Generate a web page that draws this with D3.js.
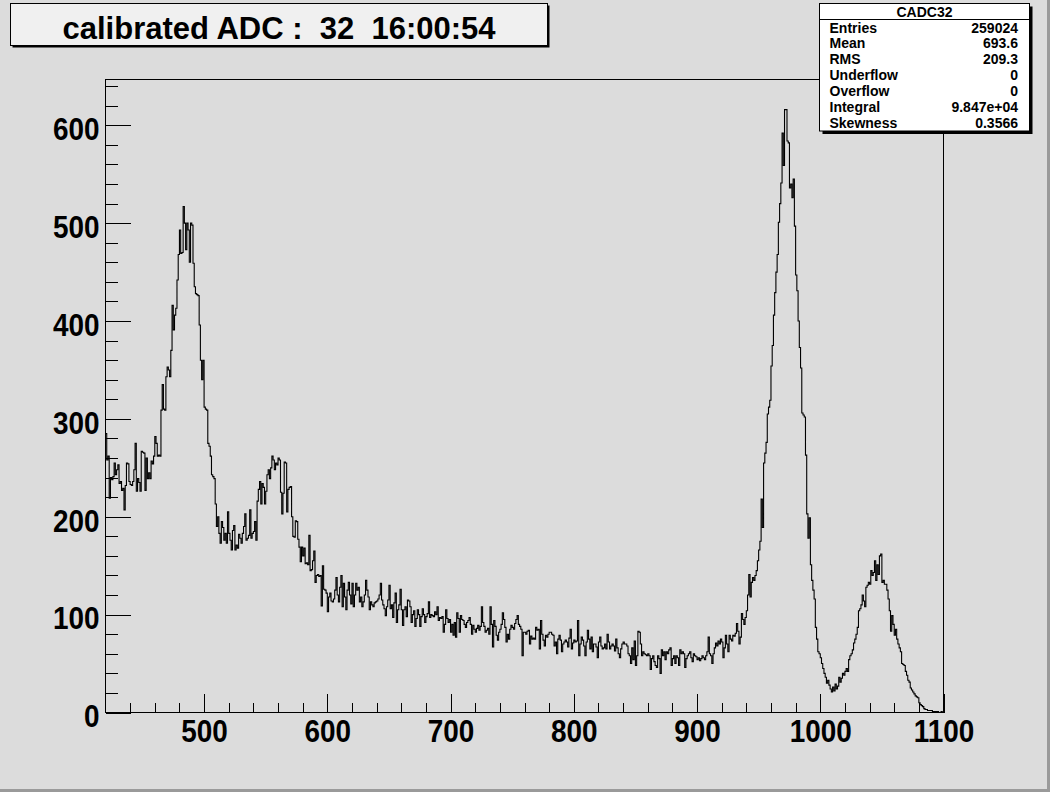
<!DOCTYPE html>
<html><head><meta charset="utf-8">
<script src="https://cdn.jsdelivr.net/npm/d3@7"></script>
<style>
html,body{margin:0;padding:0;background:#dcdcdc;}
svg{display:block;font-family:"Liberation Sans",Arial,Helvetica,sans-serif;}
</style></head><body>
<svg id="c" width="1050" height="792"></svg>
<script>
// ---- data ----
const binLow = 420;       // low edge of first bin
const binWidth = 1;
const counts = [
285,258,262,219,240,238,241,255,243,248,
253,234,236,227,229,207,232,255,254,236,
233,232,236,248,275,226,239,235,226,267,
266,265,227,260,239,245,239,257,254,262,
282,275,262,263,262,309,335,310,309,343,
353,350,343,370,416,391,406,413,442,468,
493,469,470,517,500,473,500,493,460,500,
498,459,435,428,427,426,396,360,340,360,
312,310,309,275,272,262,243,241,239,213,
190,200,183,173,195,189,176,183,173,205,
183,176,166,186,191,166,171,168,182,178,
173,183,190,203,176,178,181,207,178,183,
185,195,176,216,228,236,213,234,230,213,
226,243,248,239,250,262,258,248,255,253,
260,258,225,203,224,256,255,205,228,230,
231,200,180,179,196,195,177,169,154,169,
160,168,152,153,151,181,145,146,155,165,
133,140,141,139,140,109,150,126,125,122,
103,118,122,114,113,116,125,138,120,113,
128,140,108,132,118,105,125,133,120,111,
132,108,120,132,125,128,113,118,108,113,
120,135,125,118,105,113,110,108,112,113,
114,116,120,132,115,110,106,99,108,115,
130,106,110,97,112,122,92,105,110,126,
105,89,105,108,98,115,114,108,92,100,
104,88,96,105,100,88,98,106,100,92,
98,101,113,97,100,99,98,103,100,108,
94,97,96,98,82,90,105,96,92,95,
82,90,79,92,77,102,96,82,99,95,
94,90,87,92,94,97,90,80,89,85,
82,86,89,84,88,108,92,88,82,84,
86,80,108,90,67,94,88,79,74,82,
85,90,102,95,87,72,80,75,85,89,
87,85,91,95,99,90,88,85,58,82,
82,80,83,84,70,78,75,76,75,87,
84,85,65,94,80,74,68,79,77,80,
82,82,80,79,68,72,60,75,79,74,
62,70,72,74,72,67,76,85,65,71,
74,72,73,94,58,70,77,74,68,58,
72,84,75,65,77,62,70,70,67,56,
72,77,68,65,66,70,65,80,72,65,
68,70,68,63,75,66,60,56,65,70,
72,70,70,68,60,58,50,66,54,73,
48,58,83,82,70,58,62,60,59,58,
60,58,44,55,58,52,48,46,58,55,
40,64,58,62,54,62,60,64,66,48,
55,58,50,58,56,48,64,60,62,60,
46,55,58,60,62,56,52,60,58,57,
54,56,53,55,58,56,54,58,62,77,
60,58,50,60,66,71,68,73,70,75,
72,56,66,79,70,62,79,75,73,79,
78,81,91,83,70,77,101,95,90,97,
104,120,141,118,133,138,135,140,145,155,
166,175,218,189,255,265,276,305,312,319,
354,375,406,429,450,468,501,520,541,592,
559,616,616,584,582,536,540,526,545,497,
447,431,400,373,352,306,304,302,263,203,
178,199,151,135,125,116,87,75,62,60,
56,50,45,40,36,30,33,28,24,21,
26,22,29,24,27,36,31,35,40,38,
42,45,42,54,58,60,64,71,75,80,
87,104,106,110,120,114,108,128,130,133,
131,145,140,143,155,135,151,141,160,162,
133,135,131,131,125,116,104,83,99,90,
79,85,75,70,66,62,50,49,48,42,
38,33,31,25,23,21,19,17,16,15,
10,8,7,6,4,3,3,2,2,2,
2,1,1,1,1,1,0,0,1,0
];
const xDomain = [420, 1100];
const xMajorTicks = [500, 600, 700, 800, 900, 1000, 1100];
const xMinorStep = 20;
const yMajorTicks = [0, 100, 200, 300, 400, 500, 600];
const yMinorStep = 20;
const titleText = "calibrated ADC :  32  16:00:54";
const statsTitle = "CADC32";
const statLabels = ["Entries", "Mean", "RMS", "Underflow", "Overflow", "Integral", "Skewness"];
const statValues = ["259024", "693.6", "209.3", "0", "0", "9.847e+04", "0.3566"];

// ---- layout ----
const W = 1050, H = 792;
const fL = 105, fR = 943, fT = 79.5, fB = 712.5;
const svg = d3.select("#c");

svg.append("rect").attr("x",0).attr("y",0).attr("width",W).attr("height",H).attr("fill","#dcdcdc");
svg.append("rect").attr("x",0).attr("y",H-3).attr("width",W).attr("height",3).attr("fill","#9a9a9a");
svg.append("rect").attr("x",W-3).attr("y",0).attr("width",3).attr("height",H).attr("fill","#9a9a9a");

const yMax = d3.max(counts) * 1.05;
const x = d3.scaleLinear().domain(xDomain).range([fL, fR]);
const y = d3.scaleLinear().domain([0, yMax]).range([fB, fT]);

// frame
svg.append("rect").attr("x",fL+0.5).attr("y",fT).attr("width",fR-fL).attr("height",fB-fT)
  .attr("fill","none").attr("stroke","#000").attr("stroke-width",1);

// minor ticks
const xMinor = d3.range(xDomain[0] + xMinorStep, xDomain[1], xMinorStep).filter(v => !xMajorTicks.includes(v));
const yMinor = d3.range(0, yMax, yMinorStep).filter(v => !yMajorTicks.includes(v));

const tickLenX = 19, tickLenY = 25;

function styleAxis(g){
  g.select(".domain").remove();
  g.selectAll("line").attr("stroke","#000").attr("shape-rendering","crispEdges");
}

// x ticks (inside, upward)
svg.append("g").attr("transform",`translate(0.5,${fB})`)
  .call(d3.axisTop(x).tickValues(xMajorTicks).tickSize(tickLenX).tickFormat(""))
  .call(styleAxis);
svg.append("g").attr("transform",`translate(0.5,${fB})`)
  .call(d3.axisTop(x).tickValues(xMinor).tickSize(tickLenX/2).tickFormat(""))
  .call(styleAxis);
// x labels
const xl = svg.append("g").attr("transform",`translate(0.5,${fB})`)
  .call(d3.axisBottom(x).tickValues(xMajorTicks).tickSize(0).tickPadding(7).tickFormat(d3.format("d")))
  .call(styleAxis);
xl.selectAll("text").attr("font-size",31).attr("font-weight","bold").attr("fill","#000")
  .attr("font-family","'Liberation Sans',Arial,sans-serif").attr("transform","scale(0.9,1)");

// y ticks (inside, rightward)
svg.append("g").attr("transform",`translate(${fL+0.5},0)`)
  .call(d3.axisRight(y).tickValues(yMajorTicks).tickSize(tickLenY).tickFormat(""))
  .call(styleAxis);
svg.append("g").attr("transform",`translate(${fL+0.5},0)`)
  .call(d3.axisRight(y).tickValues(yMinor).tickSize(tickLenY/2).tickFormat(""))
  .call(styleAxis);
const yl = svg.append("g").attr("transform",`translate(${fL},0)`)
  .call(d3.axisLeft(y).tickValues(yMajorTicks).tickSize(0).tickPadding(6).tickFormat(d3.format("d")))
  .call(styleAxis);
yl.selectAll("text").attr("font-size",31).attr("font-weight","bold").attr("fill","#000")
  .attr("dy","0.46em").attr("font-family","'Liberation Sans',Arial,sans-serif").attr("transform","scale(0.9,1)");

// histogram
const pts = counts.map((c,i) => [binLow + i*binWidth, c]);
pts.push([binLow + counts.length*binWidth, counts[counts.length-1]]);
const line = d3.line().x(d => x(d[0]) + 0.5).y(d => y(d[1])).curve(d3.curveStepAfter);
svg.append("path").attr("d", line(pts)).attr("fill","none").attr("stroke","#000").attr("stroke-width",1.1);

// title box
const tb = {x:10.5, y:3.5, w:537, h:42};
svg.append("rect").attr("x",tb.x+2).attr("y",tb.y+2).attr("width",tb.w).attr("height",tb.h).attr("fill","#000");
svg.append("rect").attr("x",tb.x).attr("y",tb.y).attr("width",tb.w).attr("height",tb.h)
  .attr("fill","#f0f0f0").attr("stroke","#000").attr("stroke-width",1);
svg.append("text").attr("x",tb.x+tb.w/2).attr("y",38.5).attr("text-anchor","middle")
  .attr("font-size",31).attr("font-weight","bold").attr("fill","#000")
  .style("white-space","pre").text(titleText);

// stats box
const sb = {x:819.5, y:3.5, w:210, h:127.5};
svg.append("rect").attr("x",sb.x+3).attr("y",sb.y+3).attr("width",sb.w).attr("height",sb.h).attr("fill","#000");
svg.append("rect").attr("x",sb.x).attr("y",sb.y).attr("width",sb.w).attr("height",sb.h)
  .attr("fill","#ffffff").attr("stroke","#000").attr("stroke-width",1);
svg.append("line").attr("x1",sb.x).attr("x2",sb.x+sb.w).attr("y1",19.5).attr("y2",19.5).attr("stroke","#000");
svg.append("text").attr("x",sb.x+sb.w/2).attr("y",16.5).attr("text-anchor","middle")
  .attr("font-size",14).attr("font-weight","bold").text(statsTitle);
const rowY = i => 32.5 + i*15.9;
svg.selectAll("text.sl").data(statLabels).enter().append("text").attr("class","sl")
  .attr("x",829.5).attr("y",(d,i)=>rowY(i)).attr("font-size",14).attr("font-weight","bold").text(d=>d);
svg.selectAll("text.sv").data(statValues).enter().append("text").attr("class","sv")
  .attr("x",1018).attr("y",(d,i)=>rowY(i)).attr("text-anchor","end").attr("font-size",14).attr("font-weight","bold").text(d=>d);
</script>
</body></html>
